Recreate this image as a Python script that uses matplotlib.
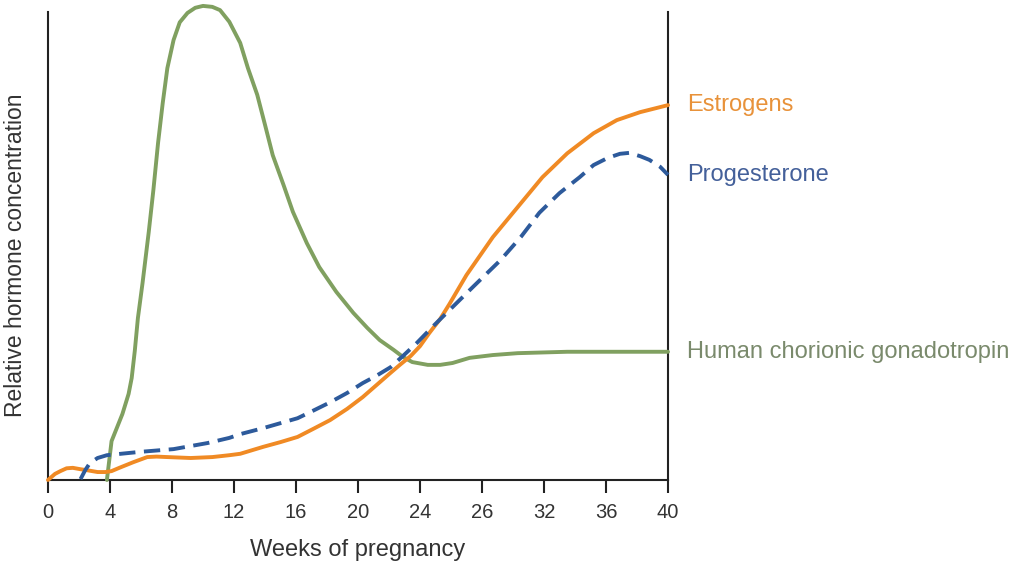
import matplotlib
matplotlib.use('Agg')
import matplotlib.pyplot as plt

plt.rcParams['font.family'] = ['Liberation Sans', 'DejaVu Sans']

# Values (weeks, relative level 0-100)
tick_weeks = [0, 4, 8, 12, 16, 20, 24, 28, 32, 36, 40]
tick_labels = ['0', '4', '8', '12', '16', '20', '24', '26', '32', '36', '40']

hcg_weeks = [3.8, 4.1, 4.8, 5.2, 5.4, 5.6, 5.8, 6.1, 6.5, 6.8, 7.1, 7.4, 7.7,
             8.1, 8.5, 9.0, 9.5, 10.0, 10.6, 11.1, 11.7, 12.4, 12.9, 13.5,
             14.0, 14.5, 15.2, 15.8, 16.7, 17.5, 18.6, 19.7, 20.6, 21.4, 22.3,
             22.9, 23.5, 24.5, 25.3, 26.1, 27.2, 28.7, 30.3, 33.5, 40.0]
hcg_level = [0, 8.3, 14.1, 18.4, 21.8, 27.6, 34.6, 42.1, 53.0, 62.0, 72.0,
             80.5, 88.0, 94.0, 97.8, 99.8, 100.9, 101.3, 101.1, 100.4, 97.9,
             93.4, 88.0, 82.3, 75.9, 69.4, 63.0, 57.3, 50.6, 45.5, 40.2, 35.7,
             32.5, 29.9, 27.8, 26.3, 25.2, 24.6, 24.6, 25.0, 26.1, 26.7, 27.1,
             27.4, 27.4]

estr_weeks = [0, 0.45, 0.8, 1.2, 1.6, 2.1, 2.5, 3.2, 3.7, 4.1, 4.6, 5.5, 6.4,
              7.0, 7.7, 9.2, 10.6, 11.7, 12.4, 13.9, 15.0, 16.1, 17.1, 18.2,
              19.3, 20.3, 21.2, 22.1, 22.7, 23.4, 24.0, 24.6, 25.3, 25.9, 27.0,
              28.7, 30.3, 31.9, 33.5, 35.2, 36.7, 38.2, 40.0]
estr_level = [0, 1.3, 1.9, 2.5, 2.6, 2.3, 2.1, 1.7, 1.7, 1.9, 2.6, 3.8, 4.9,
              5.0, 4.9, 4.7, 4.9, 5.3, 5.6, 7.1, 8.1, 9.2, 10.9, 12.8, 15.2,
              17.7, 20.3, 22.9, 24.6, 26.5, 28.6, 31.4, 34.4, 37.6, 43.8, 51.9,
              58.3, 64.7, 69.8, 74.1, 76.9, 78.6, 80.1]

prog_weeks = [2.1, 2.4, 2.7, 3.2, 3.8, 5.9, 8.1, 10.3, 11.7, 12.4, 13.9, 16.1,
              17.1, 18.2, 19.3, 20.3, 21.2, 22.1, 22.9, 23.8, 24.8, 25.9, 27.4,
              29.2, 30.5, 31.7, 33.0, 34.3, 35.2, 36.1, 36.9, 37.5, 38.2, 38.8,
              39.5, 40.0]
prog_level = [0.2, 2.1, 3.6, 4.7, 5.3, 6.0, 6.6, 7.9, 9.0, 9.8, 11.1, 13.2,
              14.8, 16.6, 18.6, 20.7, 22.3, 24.1, 26.5, 29.3, 32.7, 36.3, 41.2,
              47.0, 51.9, 57.1, 61.3, 64.7, 67.3, 68.8, 69.7, 69.9, 69.2, 68.4,
              66.9, 65.2]

names = ['Estrogens', 'Progesterone', 'Human chorionic gonadotropin']
line_colors = ['#F08A24', '#2D5A9B', '#80A060']
text_colors = ['#E8923A', '#44609A', '#7A8A6C']

fig = plt.figure(figsize=(10.24, 5.75), dpi=100)
ax = fig.add_axes([48 / 1024, 95 / 575, 620 / 1024, 468 / 575])

ax.plot(hcg_weeks, hcg_level, color=line_colors[2], lw=2.8, clip_on=False,
        solid_capstyle='round', solid_joinstyle='round', zorder=3)
ax.plot(estr_weeks, estr_level, color=line_colors[0], lw=2.8, clip_on=False,
        solid_capstyle='round', solid_joinstyle='round', zorder=4)
ax.plot(prog_weeks, prog_level, color=line_colors[1], lw=2.8, clip_on=False,
        dashes=(4.2, 2.2), zorder=5)

ax.set_xlim(0, 40)
ax.set_ylim(0, 100)
ax.set_xticks(tick_weeks)
ax.set_xticklabels(tick_labels)
ax.set_yticks([])
ax.tick_params(axis='x', direction='out', length=9.5, width=1.5, pad=7,
               labelsize=14.5, labelcolor='#333333', color='#222222')

ax.spines['top'].set_visible(False)
for side in ['left', 'right', 'bottom']:
    ax.spines[side].set_linewidth(1.5)
    ax.spines[side].set_color('#222222')

ax.set_xlabel('Weeks of pregnancy', fontsize=17, color='#333333', labelpad=12)
ax.set_ylabel('Relative hormone concentration', fontsize=16.5, color='#333333')
ax.yaxis.set_label_coords(-0.034, 0.48)

# labels at the right end of each curve
ends = [estr_level[-1], prog_level[-1], hcg_level[-1]]
for name, y_end, c in zip(names, ends, text_colors):
    ax.annotate(name, xy=(40, y_end), xytext=(14, 0), textcoords='offset points',
                va='center', ha='left', fontsize=17, color=c)

fig.savefig('out.png', dpi=100)
